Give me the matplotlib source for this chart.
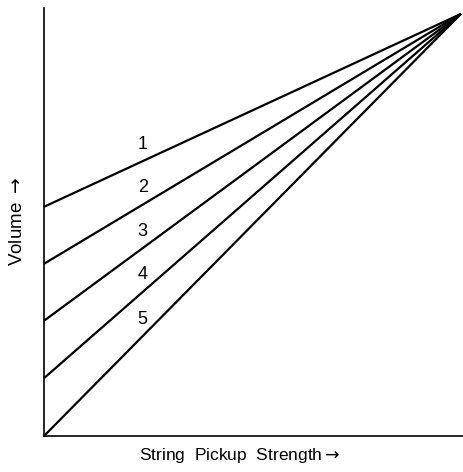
import matplotlib
matplotlib.use("Agg")
import matplotlib.pyplot as plt

# Pickup settings 1..5: volume at zero string strength, all meeting at full volume
settings = ["1", "2", "3", "4", "5"]
start_volume = [0.543, 0.408, 0.273, 0.137, 0.0]
end_point = (1.0, 1.0)
label_x = 0.237
label_offset = 0.04

plt.rcParams["font.family"] = ["Liberation Sans", "DejaVu Sans"]
plt.rcParams["mathtext.fontset"] = "dejavusans"

fig = plt.figure(figsize=(4.63, 4.72), dpi=100)
ax = fig.add_axes([44 / 463, 36 / 472, (463 - 44) / 463, (436 - 8) / 472])

for name, y0 in zip(settings, start_volume):
    ax.plot([0.0, end_point[0]], [y0, end_point[1]], color="black", lw=1.6,
            solid_capstyle="butt", clip_on=False)
    y_at = y0 + (end_point[1] - y0) * label_x / end_point[0]
    ax.text(label_x, y_at + label_offset, name, fontsize=13, ha="center",
            va="center", color="black")

ax.set_xlim(0, 1.005)
ax.set_ylim(0, 1.014)
ax.set_xticks([])
ax.set_yticks([])
for side in ("top", "right"):
    ax.spines[side].set_visible(False)
for side in ("left", "bottom"):
    ax.spines[side].set_linewidth(1.2)
    ax.spines[side].set_color("black")

ax.set_xlabel("String  Pickup  Strength$\\rightarrow$", fontsize=12.5,
              va="center")
ax.set_ylabel("Volume $\\rightarrow$", fontsize=13.5, va="center")
ax.xaxis.set_label_coords(0.468, -0.045)
ax.yaxis.set_label_coords(-0.063, 0.502)

fig.savefig("out.png", dpi=100)
